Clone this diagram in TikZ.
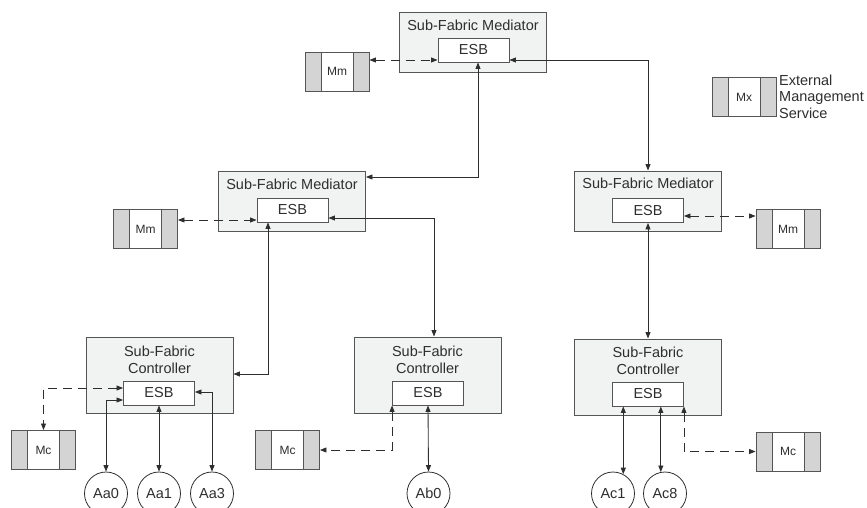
\documentclass[tikz,border=0pt]{standalone}
\usepackage{fontspec}
\setmainfont{Liberation Sans}
\usetikzlibrary{arrows.meta}
\definecolor{ink}{HTML}{2E2E2E}
\definecolor{edge}{HTML}{555555}
\definecolor{panel}{HTML}{F1F2F2}
\definecolor{side}{HTML}{D4D4D4}
\begin{document}
\begin{tikzpicture}[x=1pt,y=-1pt,
  every node/.style={text=ink},
  >={Triangle[length=6.5pt,width=5pt]},
  fabric/.style={draw=edge, fill=panel, line width=0.9pt, minimum width=147pt, inner sep=0pt},
  esb/.style={draw=edge, fill=white, line width=0.9pt, minimum width=71pt, minimum height=24pt, inner sep=0pt, font=\fontsize{14.5}{16}\selectfont},
  title/.style={font=\fontsize{14.5}{17}\selectfont, inner sep=0pt, align=center},
  mgmt/.style={draw=edge, fill=side, line width=0.9pt, minimum width=64pt, minimum height=39pt, inner sep=0pt,
    font=\fontsize{12}{13}\selectfont,
    path picture={\draw[edge, fill=white, line width=0.9pt]
      ([xshift=16pt]path picture bounding box.south west) rectangle
      ([xshift=-16pt]path picture bounding box.north east);}},
  agent/.style={circle, draw=ink, line width=0.8pt, minimum size=43pt, inner sep=0pt, font=\fontsize{14.5}{16}\selectfont},
  link/.style={draw=ink, line width=0.85pt, <->},
  mlink/.style={link, dash pattern=on 9pt off 6pt}]
\useasboundingbox (0,0) rectangle (867,508);
\clip (0,0) rectangle (867,508);

% ---- top mediator ----
\node[fabric, minimum height=60pt] (medT) at (473,42) {};
\node[title] (medTt) at (473,25) {Sub-Fabric Mediator};
\node[esb] (esbT) at (473.5,50) {ESB};
\node[mgmt] (mmT) at (337,71.5) {Mm};

% ---- legend ----
\node[mgmt] (mx) at (744,97) {Mx};
\node[title, align=left, anchor=west, font=\fontsize{14.5}{16.5}\selectfont] (mxt) at (779,96.5) {External\\Management\\Service};

% ---- second level mediators ----
\node[fabric, minimum height=60pt] (medL) at (292,201) {};
\node[title] (medLt) at (292,184) {Sub-Fabric Mediator};
\node[esb] (esbL) at (292.5,210) {ESB};
\node[mgmt] (mmL) at (145.5,229) {Mm};

\node[fabric, minimum height=60pt] (medR) at (648,201) {};
\node[title] (medRt) at (648,183) {Sub-Fabric Mediator};
\node[esb] (esbR) at (648,210.5) {ESB};
\node[mgmt] (mmR) at (788,229) {Mm};

% ---- controllers ----
\node[fabric, minimum height=76pt] (ctlL) at (159.5,375) {};
\node[title] (ctlLt) at (159.5,359.5) {Sub-Fabric\\Controller};
\node[esb] (esbCL) at (159,393) {ESB};
\node[mgmt] (mcL) at (43.5,450) {Mc};

\node[fabric, minimum height=76pt] (ctlM) at (427.5,375) {};
\node[title] (ctlMt) at (427.5,359.5) {Sub-Fabric\\Controller};
\node[esb] (esbCM) at (428,393) {ESB};
\node[mgmt] (mcM) at (287.5,450) {Mc};

\node[fabric, minimum height=76pt] (ctlR) at (648,377) {};
\node[title] (ctlRt) at (648,361) {Sub-Fabric\\Controller};
\node[esb] (esbCR) at (648,394) {ESB};
\node[mgmt] (mcR) at (788,451.5) {Mc};

% ---- agents ----
\node[agent] (aa0) at (106,493.5) {Aa0};
\node[agent] (aa1) at (159,493.5) {Aa1};
\node[agent] (aa3) at (212,493.5) {Aa3};
\node[agent] (ab0) at (428.5,493.5) {Ab0};
\node[agent] (ac1) at (613,493.5) {Ac1};
\node[agent] (ac8) at (665,493.5) {Ac8};

% ---- connector levels ----
\coordinate (yT) at (0,60);
\coordinate (yL) at (0,177);
\coordinate (xT) at (478,0);
\coordinate (yLm) at (0,220);
\coordinate (yLe) at (0,218);
\coordinate (xLe) at (434,0);
\coordinate (xLs) at (268,0);
\coordinate (yC) at (0,374);
\coordinate (yRm) at (0,216);
\coordinate (yCm) at (0,388);
\coordinate (yA0) at (0,400);
\coordinate (yA3) at (0,392);

% management links
\draw[mlink] (mmT.east |- yT) -- (esbT.west |- yT);
\draw[mlink] (mmL.east |- yLm) -- (esbL.west |- yLm);
\draw[mlink] (esbR.east |- yRm) -- (mmR.west |- yRm);
\draw[mlink] (esbCL.west |- yCm) -| (mcL.north);
\draw[mlink] (esbCM.south west) |- (mcM.east);
\draw[mlink] (esbCR.south east) |- (mcR.west);

% fabric links
\draw[link] (esbT.east |- yT) -| (medR.north);
\draw[link] (xT |- esbT.south) |- (medL.east |- yL);
\draw[link] (esbL.east |- yLe) -| (xLe |- ctlM.north);
\draw[link] (xLs |- esbL.south) |- (ctlL.east |- yC);
\draw[link] (esbR.south) -- (ctlR.north);

% agent links
\draw[link] (esbCL.west |- yA0) -| (aa0.north);
\draw[link] (esbCL.south) -- (aa1.north);
\draw[link] (esbCL.east |- yA3) -| (aa3.north);
\draw[link] (esbCM.south) -- (ab0.north);
\draw[link] (ac1.62 |- esbCR.south) -- (ac1.62);
\draw[link] (ac8.101 |- esbCR.south) -- (ac8.101);
\end{tikzpicture}
\end{document}
